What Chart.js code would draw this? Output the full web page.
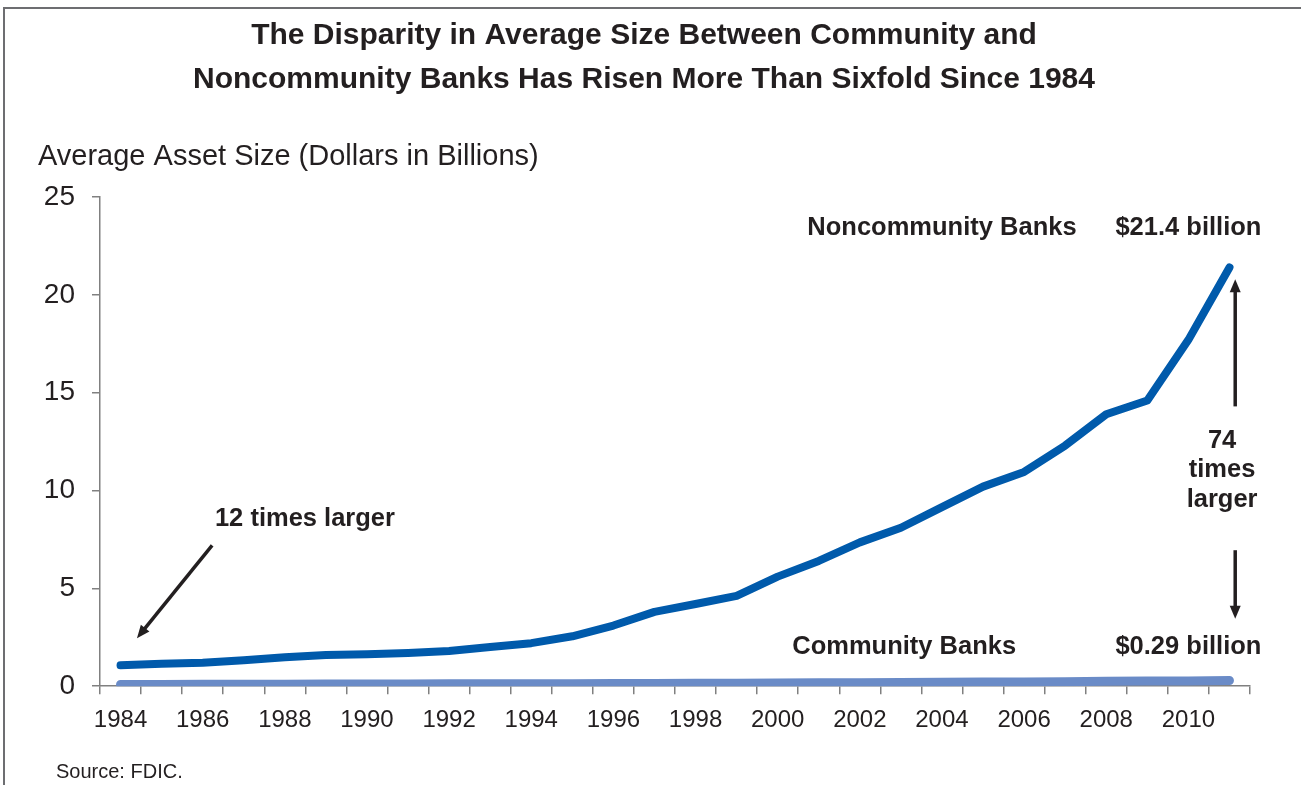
<!DOCTYPE html>
<html lang="en">
<head>
    <meta charset="UTF-8">
    <title>Average Asset Size: Community vs Noncommunity Banks</title>
    <script src="https://cdn.jsdelivr.net/npm/chart.js"></script>
    <style>
        body {
            margin: 0;
            background-color: #ffffff;
        }
        #chart-container {
            width: 1301px;
            height: 785px;
        }
    </style>
</head>
<body>

<div id="chart-container">
    <canvas id="sizeChart"></canvas>
</div>

<script>
    // Years on the x axis
    const years = ['1984', '1985', '1986', '1987', '1988', '1989', '1990', '1991', '1992', '1993',
                   '1994', '1995', '1996', '1997', '1998', '1999', '2000', '2001', '2002', '2003',
                   '2004', '2005', '2006', '2007', '2008', '2009', '2010', '2011'];

    // Average asset size, dollars in billions
    const noncommunity = [1.07, 1.15, 1.2, 1.33, 1.48, 1.6, 1.63, 1.7, 1.8, 2.0,
                          2.2, 2.55, 3.1, 3.8, 4.2, 4.62, 5.6, 6.4, 7.35, 8.1,
                          9.15, 10.2, 10.95, 12.3, 13.9, 14.6, 17.7, 21.4];
    const community = [0.09, 0.09, 0.1, 0.1, 0.1, 0.11, 0.11, 0.11, 0.12, 0.12,
                       0.13, 0.13, 0.14, 0.14, 0.15, 0.15, 0.16, 0.17, 0.18, 0.19,
                       0.2, 0.21, 0.22, 0.23, 0.25, 0.26, 0.27, 0.29];

    const yTicks = [0, 5, 10, 15, 20, 25];

    const titleLines = ['The Disparity in Average Size Between Community and',
                        'Noncommunity Banks Has Risen More Than Sixfold Since 1984'];
    const axisTitle = 'Average Asset Size (Dollars in Billions)';
    const sourceNote = 'Source: FDIC.';

    // Callout labels: [text, x position in year index, y position in billions]
    const callouts = [
        ['Noncommunity Banks', 20, 23.4],
        ['$21.4 billion', 26, 23.4],
        ['Community Banks', 19.08, 2.0],
        ['$0.29 billion', 26, 2.0],
        ['74', 26.82, 12.55],
        ['times', 26.82, 11.05],
        ['larger', 26.82, 9.5],
        ['12 times larger', 4.49, 8.55]
    ];
    // Arrows: [fromIndex, fromValue, toIndex, toValue] (head at the "to" end)
    const arrows = [
        [27.14, 14.3, 27.14, 20.8],
        [27.14, 6.95, 27.14, 3.45],
        [2.23, 7.2, 0.4, 2.45]
    ];

    const FONT = "'Liberation Sans', Arial, Helvetica, sans-serif";
    const INK = '#231f20';

    function drawArrow(ctx, x1, y1, x2, y2) {
        const ang = Math.atan2(y2 - y1, x2 - x1);
        const headLen = 13, headW = 5.5;
        ctx.beginPath();
        ctx.moveTo(x1, y1);
        ctx.lineTo(x2 - Math.cos(ang) * headLen * 0.8, y2 - Math.sin(ang) * headLen * 0.8);
        ctx.stroke();
        ctx.beginPath();
        ctx.moveTo(x2, y2);
        ctx.lineTo(x2 - Math.cos(ang) * headLen - Math.sin(ang) * headW,
                   y2 - Math.sin(ang) * headLen + Math.cos(ang) * headW);
        ctx.lineTo(x2 - Math.cos(ang) * headLen + Math.sin(ang) * headW,
                   y2 - Math.sin(ang) * headLen - Math.cos(ang) * headW);
        ctx.closePath();
        ctx.fill();
    }

    // frame, callouts, arrows and source line
    const extrasPlugin = {
        id: 'extras',
        beforeDraw(chart) {
            const ctx = chart.ctx;
            ctx.save();
            ctx.strokeStyle = '#6d6e71';
            ctx.lineWidth = 2;
            ctx.beginPath();
            ctx.moveTo(4, chart.height + 5);
            ctx.lineTo(4, 8);
            ctx.lineTo(chart.width + 5, 8);
            ctx.stroke();
            ctx.restore();
        },
        afterDraw(chart) {
            const ctx = chart.ctx;
            const x = chart.scales.x, y = chart.scales.y;
            ctx.save();
            ctx.fillStyle = INK;
            ctx.font = 'bold 25.5px ' + FONT;
            ctx.textAlign = 'center';
            ctx.textBaseline = 'middle';
            callouts.forEach(([txt, xi, yv]) => {
                ctx.fillText(txt, x.getPixelForValue(xi), y.getPixelForValue(yv));
            });
            ctx.strokeStyle = INK;
            ctx.lineWidth = 3.5;
            arrows.forEach(([xa, ya, xb, yb]) => {
                drawArrow(ctx, x.getPixelForValue(xa), y.getPixelForValue(ya),
                          x.getPixelForValue(xb), y.getPixelForValue(yb));
            });
            ctx.font = '20px ' + FONT;
            ctx.textAlign = 'left';
            ctx.fillText(sourceNote, 56, 772);
            ctx.restore();
        }
    };

    const ctx = document.getElementById('sizeChart').getContext('2d');

    new Chart(ctx, {
        type: 'line',
        data: {
            labels: years,
            datasets: [
                {
                    label: 'Noncommunity Banks',
                    data: noncommunity,
                    borderColor: '#005aab',
                    borderWidth: 8,
                    borderCapStyle: 'round',
                    borderJoinStyle: 'round',
                    pointRadius: 0,
                    tension: 0
                },
                {
                    label: 'Community Banks',
                    data: community,
                    borderColor: '#6a8bc7',
                    borderWidth: 9,
                    borderCapStyle: 'round',
                    borderJoinStyle: 'round',
                    pointRadius: 0,
                    tension: 0
                }
            ]
        },
        options: {
            responsive: true,
            maintainAspectRatio: false,
            animation: false,
            layout: {
                padding: { left: 38, right: 51, top: 0, bottom: 38 }
            },
            plugins: {
                legend: { display: false },
                tooltip: { enabled: false },
                title: {
                    display: true,
                    text: titleLines,
                    color: INK,
                    font: { family: FONT, size: 30, weight: 'bold', lineHeight: 1.467 },
                    padding: { top: 14, bottom: 0 }
                },
                subtitle: {
                    display: true,
                    text: axisTitle,
                    align: 'start',
                    color: INK,
                    font: { family: FONT, size: 29, weight: 'normal', lineHeight: 1.2 },
                    padding: { top: 37.6, bottom: 22.6 }
                }
            },
            scales: {
                x: {
                    offset: true,
                    grid: {
                        offset: true,
                        drawOnChartArea: false,
                        tickLength: 8,
                        color: '#808080',
                        lineWidth: 1.5
                    },
                    border: { color: '#808080', width: 1.5 },
                    ticks: {
                        autoSkip: false,
                        maxRotation: 0,
                        minRotation: 0,
                        padding: 12,
                        color: INK,
                        font: { family: FONT, size: 24 },
                        callback: function(value, index) {
                            return index % 2 === 0 ? years[index] : '';
                        }
                    }
                },
                y: {
                    min: yTicks[0],
                    max: yTicks[yTicks.length - 1],
                    afterBuildTicks: function(scale) {
                        scale.ticks = yTicks.map(v => ({ value: v }));
                    },
                    afterFit: function(scale) {
                        scale.width = 62;
                    },
                    grid: {
                        drawOnChartArea: false,
                        tickLength: 8,
                        color: '#808080',
                        lineWidth: 1.5
                    },
                    border: { color: '#808080', width: 1.5 },
                    ticks: {
                        padding: 17,
                        color: INK,
                        font: { family: FONT, size: 28 }
                    }
                }
            }
        },
        plugins: [extrasPlugin]
    });
</script>

</body>
</html>
